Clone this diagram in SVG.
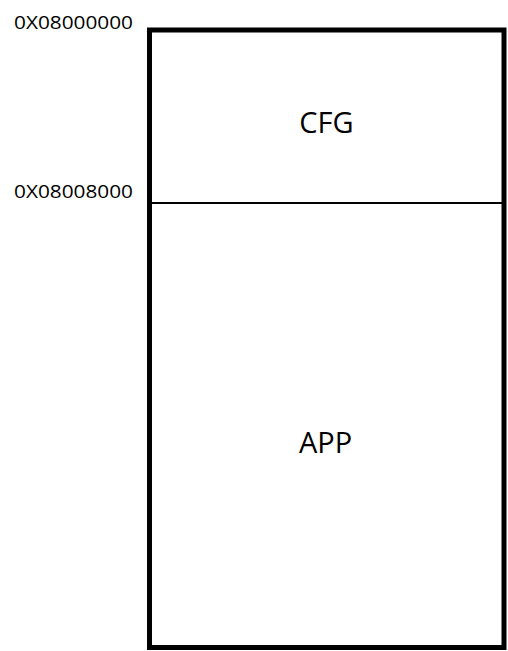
<svg xmlns="http://www.w3.org/2000/svg" width="508" height="651" viewBox="0 0 508 651">
<style>
.addr{font-family:"Open Sans","Liberation Sans",Arial,sans-serif;font-size:18.5px;fill:#000}
.lbl{font-family:"Open Sans","Liberation Sans",Arial,sans-serif;font-size:29px;fill:#000;text-anchor:middle}
.box{fill:#fff;stroke:#000}
</style>
<rect width="508" height="651" fill="#fff"/>
<g id="memory">
<rect class="box" x="149.5" y="30" width="354.5" height="617.5" stroke-width="5"/>
</g>
<g id="connectors">
<line x1="152" y1="203" x2="502" y2="203" stroke="#000" stroke-width="2"/>
</g>
<g id="cfg">
<text class="lbl" x="326.5" y="133">CFG</text>
</g>
<g id="app">
<text class="lbl" x="325.5" y="453">APP</text>
</g>
<g id="addr1">
<text class="addr" x="14" y="29.3" textLength="119" lengthAdjust="spacingAndGlyphs">0X08000000</text>
</g>
<g id="addr2">
<text class="addr" x="14" y="198.3" textLength="119" lengthAdjust="spacingAndGlyphs">0X08008000</text>
</g>
</svg>
